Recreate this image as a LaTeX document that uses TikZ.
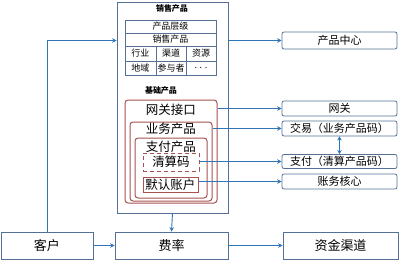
\documentclass[tikz,border=0pt]{standalone}
\usepackage{fontspec}
\setmainfont{Noto Sans CJK SC}
\usetikzlibrary{arrows.meta}
\definecolor{boxb}{RGB}{84,112,150}
\definecolor{arr}{RGB}{46,117,182}
\definecolor{redb}{RGB}{165,82,80}
\tikzset{
  bx/.style={draw=boxb, line width=0.8pt, inner sep=0pt, font=\fontsize{13}{15}\selectfont},
  rbx/.style={draw=boxb, line width=0.8pt, rounded corners=2pt, inner sep=0pt, font=\fontsize{11}{13}\selectfont},
  cell/.style={draw=boxb, line width=0.6pt, inner sep=0pt, font=\fontsize{9}{10}\selectfont},
  redbox/.style={draw=redb, line width=1pt, rounded corners=3pt, inner sep=0pt},
  ar/.style={draw=arr, line width=0.9pt, -{Stealth[length=4.5pt,width=4.5pt]}},
  lbl/.style={inner sep=0pt, font=\fontsize{12.5}{14}\selectfont},
  ttl/.style={inner sep=0pt, font=\bfseries\fontsize{8}{10}\selectfont}
}
\begin{document}
\begin{tikzpicture}[x=1pt,y=-1pt]
\useasboundingbox (0,0) rectangle (400,260);
% outer product box
\node[draw=boxb, line width=0.9pt, minimum width=111pt, minimum height=211pt, inner sep=0pt] (outer) at (172.5,107.5) {};
\node[ttl] (t1) at (172,8) {销售产品};
% table
\node[cell, minimum width=91pt, minimum height=13pt] (c1) at (170.5,26.5) {产品层级};
\node[cell, minimum width=91pt, minimum height=13pt] (c2) at (170.5,39.5) {销售产品};
\node[cell, minimum width=31pt, minimum height=15pt] (c31) at (140.5,53.5) {行业};
\node[cell, minimum width=30pt, minimum height=15pt] (c32) at (171,53.5) {渠道};
\node[cell, minimum width=30pt, minimum height=15pt] (c33) at (201,53.5) {资源};
\node[cell, minimum width=31pt, minimum height=14pt] (c41) at (140.5,68) {地域};
\node[cell, minimum width=30pt, minimum height=14pt] (c42) at (171,68) {参与者};
\node[cell, minimum width=30pt, minimum height=14pt] (c43) at (201,68) {. . .};
\node[ttl] (t2) at (161,90) {基础产品};
% red nested boxes
\node[redbox, minimum width=92pt, minimum height=103pt] (gw) at (171,151.5) {};
\node[redbox, minimum width=82pt, minimum height=79pt] (yw) at (171,161.5) {};
\node[redbox, minimum width=72pt, minimum height=60pt] (zf) at (171,168) {};
\node[draw=redb, line width=1pt, dash pattern=on 4pt off 3pt, minimum width=56pt, minimum height=18pt, inner sep=0pt] (qs) at (171,162) {};
\node[draw=redb, line width=1pt, minimum width=55pt, minimum height=15pt, inner sep=0pt] (mr) at (170.5,184.5) {};
\node[lbl] (l1) at (171,110) {网关接口};
\node[lbl] (l2) at (171,129) {业务产品};
\node[lbl] (l3) at (171,147) {支付产品};
\node[lbl] (l4) at (171,162) {清算码};
\node[lbl] (l5) at (170.5,184.5) {默认账户};
% right boxes
\node[rbx, minimum width=115pt, minimum height=17pt] (pc) at (339.5,40.5) {产品中心};
\node[rbx, minimum width=115pt, minimum height=15pt] (wg) at (339.5,108.5) {网关};
\node[rbx, minimum width=115pt, minimum height=15pt] (jy) at (339.5,128.5) {交易（业务产品码）};
\node[rbx, minimum width=115pt, minimum height=14pt] (zfr) at (339.5,161.5) {支付（清算产品码）};
\node[rbx, minimum width=115pt, minimum height=15pt] (zw) at (339.5,181.5) {账务核心};
% bottom boxes
\node[bx, minimum width=92pt, minimum height=27pt] (kh) at (47,245.5) {客户};
\node[bx, minimum width=113pt, minimum height=27pt] (fl) at (171.5,245.5) {费率};
\node[bx, minimum width=115pt, minimum height=27pt] (zj) at (340.5,245.5) {资金渠道};
% connectors
\draw[ar] (kh.north) |- (pc.west -| outer.west);
\draw[ar] (pc.west -| outer.east) -- (pc.west);
\draw[ar] (wg.west -| gw.east) -- (wg.west);
\draw[ar] (jy.west -| yw.east) -- (jy.west);
\draw[ar] (zfr.west -| qs.east) -- (zfr.west);
\draw[ar] (zw.west -| mr.east) -- (zw.west);
\draw[draw=arr, line width=0.9pt, {Stealth[length=4pt,width=4.5pt]}-{Stealth[length=4pt,width=4.5pt]}] (jy.south) -- (zfr.north);
\draw[ar] (outer.south) -- (fl.north);
\draw[ar] (kh.east) -- (fl.west);
\draw[ar] (fl.east) -- (zj.west);
\end{tikzpicture}
\end{document}
